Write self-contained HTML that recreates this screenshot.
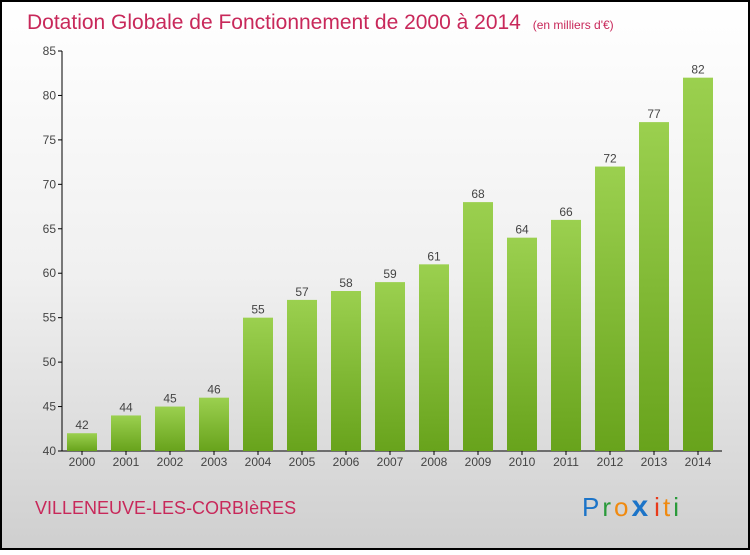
<!DOCTYPE html>
<html><head><meta charset="utf-8"><style>
body{margin:0;}
#c{width:750px;height:550px;position:relative;}
</style></head><body>
<div id="c">
<svg width="750" height="550" xmlns="http://www.w3.org/2000/svg">
<defs>
<linearGradient id="bg" x1="0" y1="0" x2="0" y2="1"><stop offset="0" stop-color="#ffffff"/><stop offset="0.5" stop-color="#f0f0f0"/><stop offset="1" stop-color="#cfcfcf"/></linearGradient>
<linearGradient id="bar" x1="0" y1="0" x2="0" y2="1"><stop offset="0" stop-color="#9bd04f"/><stop offset="1" stop-color="#68a31c"/></linearGradient>
</defs>
<rect x="1" y="1" width="748" height="548" fill="url(#bg)" stroke="#000" stroke-width="2"/>
<text x="27" y="29" font-family="Liberation Sans, sans-serif" font-size="21" fill="#c8285a">Dotation Globale de Fonctionnement de 2000 à 2014 <tspan font-size="12" dx="6">(en milliers d'€)</tspan></text>
<g id="axes"></g>
<g id="bars"></g>
<text x="35" y="514" font-family="Liberation Sans, sans-serif" font-size="18" fill="#c8285a">VILLENEUVE-LES-CORBIèRES</text>
<text x="582" y="516" font-family="Liberation Sans, sans-serif" font-size="26" letter-spacing="3"><tspan fill="#1c74c8">P</tspan><tspan fill="#2a9a3a">r</tspan><tspan fill="#f08a10">o</tspan><tspan fill="#1c74c8" font-weight="bold" font-size="30">x</tspan><tspan fill="#e83a1a" dx="3">i</tspan><tspan fill="#f08a10">t</tspan><tspan fill="#2a9a3a">i</tspan></text>
</svg>
</div>
<script>
const years=["2000","2001","2002","2003","2004","2005","2006","2007","2008","2009","2010","2011","2012","2013","2014"];
const values=[42,44,45,46,55,57,58,59,61,68,64,66,72,77,82];
const yTicks=[40,45,50,55,60,65,70,75,80,85];
const NS="http://www.w3.org/2000/svg";
const y0=451,y1=51,vmin=40,vmax=85,xl=62,x0=82,step=44,bw=30;
function yS(v){return y0-(v-vmin)/(vmax-vmin)*(y0-y1);}
function xS(i){return x0+i*step;}
function mk(t,a,p){const e=document.createElementNS(NS,t);for(const k in a)e.setAttribute(k,a[k]);p.appendChild(e);return e;}
const ax=document.getElementById('axes'),bg=document.getElementById('bars');
const yl=mk('line',{x1:xl,y1:y1,x2:xl,y2:y0,stroke:'#000'},ax);


const xl2=mk('line',{x1:xl,y1:y0,x2:722,y2:y0,stroke:'#000'},ax);


yTicks.forEach(v=>{
 mk('line',{x1:xl-4,y1:yS(v),x2:xl,y2:yS(v),stroke:'#000'},ax);
 const t=mk('text',{x:xl-6,y:yS(v)+4,'text-anchor':'end','font-family':'Liberation Sans, sans-serif','font-size':'12',fill:'#444'},ax);
 t.textContent=v;
 
 
});
years.forEach((yr,i)=>{
 const x=xS(i),v=values[i];
 const r=mk('rect',{x:x-bw/2,y:yS(v),width:bw,height:y0-yS(v),fill:'url(#bar)'},bg);
 
 
 const l=mk('text',{x:x,y:yS(v)-4,'text-anchor':'middle','font-family':'Liberation Sans, sans-serif','font-size':'12',fill:'#444'},bg);
 l.textContent=v;
 
 
 mk('line',{x1:x,y1:y0,x2:x,y2:y0+4,stroke:'#000'},ax);
 const t=mk('text',{x:x,y:y0+15,'text-anchor':'middle','font-family':'Liberation Sans, sans-serif','font-size':'12',fill:'#444'},ax);
 t.textContent=yr;
 
 
});
</script>
</body></html>
